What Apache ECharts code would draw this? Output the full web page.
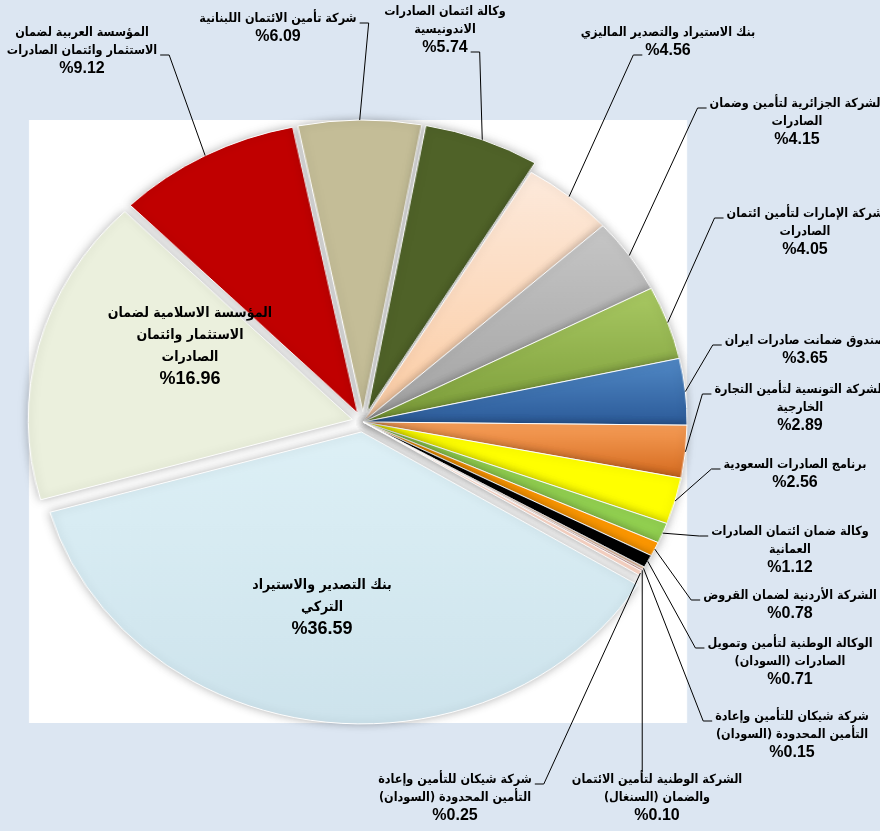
<!DOCTYPE html>
<html>
<head>
<meta charset="utf-8">
<script src="https://cdn.jsdelivr.net/npm/echarts@6/dist/echarts.min.js"></script>
<style>
html,body{margin:0;padding:0;background:#dce6f2;overflow:hidden;}
#wrap{position:relative;width:880px;height:831px;overflow:hidden;}
#pie,#lab{position:absolute;left:0;top:0;width:880px;height:831px;}
</style>
</head>
<body>
<div id="wrap" dir="rtl">
  <div id="pie"></div>
  <div id="lab"></div>
</div>
<script>
// ---------- data ----------
const categories = [
  'بنك التصدير والاستيراد\nالتركي',
  'المؤسسة الاسلامية لضمان\nالاستثمار وائتمان\nالصادرات',
  'المؤسسة العربية لضمان\nالاستثمار وائتمان الصادرات',
  'شركة تأمين الائتمان اللبنانية',
  'وكالة ائتمان الصادرات\nالاندونيسية',
  'بنك الاستيراد والتصدير الماليزي',
  'الشركة الجزائرية لتأمين وضمان\nالصادرات',
  'شركة الإمارات لتأمين ائتمان\nالصادرات',
  'صندوق ضمانت صادرات ايران',
  'الشركة التونسية لتأمين التجارة\nالخارجية',
  'برنامج الصادرات السعودية',
  'وكالة ضمان ائتمان الصادرات\nالعمانية',
  'الشركة الأردنية لضمان القروض',
  'الوكالة الوطنية لتأمين وتمويل\nالصادرات (السودان)',
  'شركة شيكان للتأمين وإعادة\nالتأمين المحدودة (السودان)',
  'الشركة الوطنية لتأمين الائتمان\nوالضمان (السنغال)',
  'شركة شيكان للتأمين وإعادة\nالتأمين المحدودة (السودان)'
];
const values = [36.59, 16.96, 9.12, 6.09, 5.74, 4.56, 4.15, 4.05, 3.65, 2.89, 2.56, 1.12, 0.78, 0.71, 0.15, 0.10, 0.25];

// ---------- style / layout ----------
function vg(a, b) { return { type: 'linear', x: 0, y: 0, x2: 0, y2: 1, colorStops: [{ offset: 0, color: a }, { offset: 1, color: b }] }; }
const colors = [
  vg('#ddf0f6', '#cde3ec'), '#ebf0dd', '#c00000', '#c4bd97', '#4f6228',
  vg('#fdeadc', '#fbcba2'), vg('#c6c6c6', '#a2a2a2'), vg('#a9c963', '#7a9b38'),
  vg('#5189c6', '#2b5a98'), vg('#f8a05a', '#d4691d'), '#ffff00', '#92d050',
  '#ff9900', '#000000', '#f8cbad', '#d99694', '#fbd6c6'
];
const exploded = [true, true, true, true, true, false, false, false, false, false, false, false, false, false, false, false, false];
// [x, y, side of leader line, line of text it joins]
const labelPlace = [
  [322, 607, 'none', 0], [190, 346, 'none', 0], [82, 51, 'right', 1], [278, 28, 'right', 0],
  [445, 30, 'right', 2], [668, 42, 'left', 1], [797, 122, 'left', 0], [805, 232, 'left', 0],
  [805, 350, 'left', 0], [800, 408, 'left', 0], [795, 474, 'left', 0], [790, 550, 'left', 0],
  [790, 605, 'left', 0], [790, 662, 'left', 0], [792, 735, 'left', 0], [657, 798, 'top', 0],
  [455, 798, 'right', 0]
];
const CX = 363, CY = 422, R = 292, OFF = 10, K = 1.11, START = -31.6;
const AR_FAMILY = '"DejaVu Sans Condensed", "DejaVu Sans", sans-serif';
const NUM_FAMILY = 'Arial, "Liberation Sans", "DejaVu Sans", sans-serif';
const AR_OUT = 12.5, NUM_OUT = 16, LH_OUT = 18;
const AR_IN = 14, NUM_IN = 18, LH_IN = 22;

function pct(i) { return '%' + values[i].toFixed(2); }
function richText(i, inside) {
  const a = inside ? 'c' : 'a', b = inside ? 'd' : 'b';
  return categories[i].split('\n').map(function (s) { return '{' + a + '|' + s + '}'; }).join('\n') + '\n{' + b + '|' + pct(i) + '}';
}
const mctx = document.createElement('canvas').getContext('2d');
function tw(s, size, fam) { mctx.font = 'bold ' + size + 'px ' + fam; return mctx.measureText(s).width; }

// ---------- layer 1: the pie (stretched into an ellipse like the original) ----------
const pieEl = document.getElementById('pie');
pieEl.style.transformOrigin = CX + 'px ' + CY + 'px';
pieEl.style.transform = 'scaleX(' + K + ')';
const pie = echarts.init(pieEl, null, { renderer: 'canvas' });
pie.setOption({
  backgroundColor: 'transparent',
  animation: false,
  graphic: [{
    type: 'rect', silent: true, z: 0,
    shape: { x: CX + (29 - CX) / K, y: 120, width: 658 / K, height: 603 },
    style: { fill: '#ffffff' }
  }],
  series: [{
    type: 'pie',
    z: 5,
    center: [CX, CY],
    radius: R,
    startAngle: START,
    clockwise: true,
    selectedMode: 'multiple',
    selectedOffset: OFF,
    emphasis: { disabled: true },
    itemStyle: { borderColor: '#ffffff', borderWidth: 1, shadowBlur: 8, shadowColor: 'rgba(0,0,0,0.28)' },
    label: { show: false },
    labelLine: { show: false },
    data: values.map(function (v, i) {
      return { name: categories[i], value: v, selected: exploded[i], itemStyle: { color: colors[i] } };
    })
  }]
});

// ---------- layer 2: labels and leader lines ----------
const lab = echarts.init(document.getElementById('lab'), null, { renderer: 'canvas' });
lab.setOption({
  backgroundColor: 'transparent',
  animation: false,
  series: [{
    type: 'pie',
    silent: true,
    center: [CX, CY],
    radius: R,
    startAngle: START,
    clockwise: true,
    avoidLabelOverlap: false,
    emphasis: { disabled: true },
    itemStyle: { color: 'rgba(0,0,0,0)', borderWidth: 0 },
    label: {
      show: true,
      position: 'outside',
      color: '#000',
      align: 'center',
      width: 420,
      overflow: 'none',
      formatter: function (p) { return richText(p.dataIndex, labelPlace[p.dataIndex][2] === 'none'); },
      rich: {
        a: { fontFamily: AR_FAMILY, fontWeight: 'bold', fontSize: AR_OUT, lineHeight: LH_OUT, color: '#000', align: 'center' },
        b: { fontFamily: NUM_FAMILY, fontWeight: 'bold', fontSize: NUM_OUT, lineHeight: LH_OUT, color: '#000', align: 'center' },
        c: { fontFamily: AR_FAMILY, fontWeight: 'bold', fontSize: AR_IN, lineHeight: LH_IN, color: '#000', align: 'center' },
        d: { fontFamily: NUM_FAMILY, fontWeight: 'bold', fontSize: NUM_IN, lineHeight: LH_IN, color: '#000', align: 'center' }
      }
    },
    labelLine: { show: true, length: 12, length2: 10, lineStyle: { color: '#000', width: 1 } },
    labelLayout: function (p) {
      const i = p.dataIndex;
      const L = labelPlace[i];
      const out = { x: L[0], y: L[1], align: 'center', verticalAlign: 'middle' };
      if (L[2] === 'none' || !p.labelLinePoints) return out;
      const lines = categories[i].split('\n').concat([pct(i)]);
      const top = L[1] - lines.length * LH_OUT / 2;
      const isNum = L[3] === lines.length - 1;
      const w = isNum ? tw(lines[L[3]], NUM_OUT, NUM_FAMILY) : tw(lines[L[3]], AR_OUT, AR_FAMILY);
      const ly = top + LH_OUT * L[3] + LH_OUT / 2 + 4;
      // anchor on the slice edge, following the explosion and the stretch of layer 1
      const a = p.labelLinePoints[0];
      let ax = a[0], ay = a[1];
      if (exploded[i]) {
        const dx = ax - CX, dy = ay - CY, d = Math.hypot(dx, dy) || 1;
        ax += OFF * dx / d; ay += OFF * dy / d;
      }
      ax = CX + (ax - CX) * K;
      let end, elbow;
      if (L[2] === 'left') { end = [L[0] - w / 2 - 3, ly]; elbow = [end[0] - 9, ly]; }
      else if (L[2] === 'right') { end = [L[0] + w / 2 + 3, ly]; elbow = [end[0] + 9, ly]; }
      else { end = [ax, top + 1]; elbow = end.slice(); }
      out.labelLinePoints = [[ax, ay], elbow, end];
      return out;
    },
    data: values.map(function (v, i) {
      const inside = labelPlace[i][2] === 'none';
      return {
        name: categories[i], value: v,
        label: inside ? { position: 'inside' } : {},
        labelLine: inside ? { show: false } : {}
      };
    })
  }]
});
</script>
</body>
</html>
